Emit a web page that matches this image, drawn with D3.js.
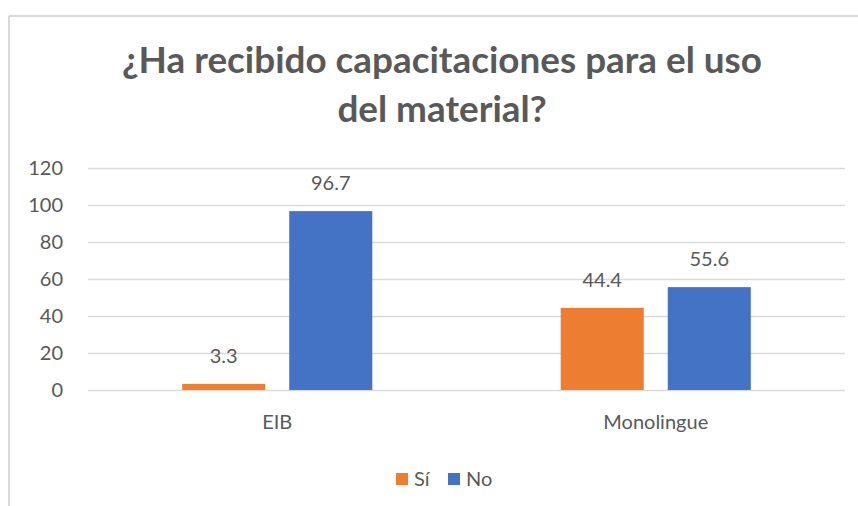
<!DOCTYPE html>
<html>
<head>
<meta charset="utf-8">
<script src="https://cdn.jsdelivr.net/npm/d3@7"></script>
<style>
  body { margin: 0; background: #fff; }
  text { font-family: Lato, "Open Sans", sans-serif; fill: #595959; }
</style>
</head>
<body>
<script>
// datos del grafico
const categories = ['EIB', 'Monolingue'];
const seriesNames = ['Sí', 'No'];
const siValues = [3.3, 44.4];
const noValues = [96.7, 55.6];
const yTicks = [0, 20, 40, 60, 80, 100, 120];
const titleLines = ['¿Ha recibido capacitaciones para el uso', 'del material?'];

const COLORS = {'Sí': '#ED7D31', 'No': '#4472C4'};

const WIDTH = 858;
const HEIGHT = 506;
const MARGIN = {top: 168, bottom: 116, left: 88, right: 13};

const rows = categories.map((c, i) => ({cat: c, 'Sí': siValues[i], 'No': noValues[i]}));

const SVG = d3.select('body')
  .append('svg')
  .attr('width', WIDTH)
  .attr('height', HEIGHT);

// marco del grafico (solo arriba e izquierda visibles)
SVG.append('line')
  .attr('x1', 9).attr('x2', WIDTH).attr('y1', 16).attr('y2', 16)
  .attr('stroke', '#d9d9d9').attr('stroke-width', 2);
SVG.append('line')
  .attr('x1', 9).attr('x2', 9).attr('y1', 16).attr('y2', HEIGHT)
  .attr('stroke', '#d9d9d9').attr('stroke-width', 2);

const xScale = d3.scaleBand()
  .domain(categories)
  .range([MARGIN.left, WIDTH - MARGIN.right]);

const xInner = d3.scaleBand()
  .domain(seriesNames)
  .range([0, xScale.bandwidth()])
  .paddingInner(0.224)
  .paddingOuter(0.88);

const yScale = d3.scaleLinear()
  .domain([0, 120])
  .range([HEIGHT - MARGIN.bottom, MARGIN.top]);

// titulo
const title = SVG.append('text')
  .attr('x', 442)
  .attr('text-anchor', 'middle')
  .style('font-weight', 'bold')
  .style('font-size', '34px');
title.selectAll('tspan')
  .data(titleLines)
  .enter()
  .append('tspan')
  .attr('x', 442)
  .attr('y', (d, i) => 73 + i * 49)
  .text(d => d);
// ajustar tamaño para que la primera linea mida ~640px
let w = title.select('tspan').node().getComputedTextLength();
title.style('font-size', (34 * 640 / w) + 'px');

// eje y con lineas de cuadricula
const yAxis = d3.axisLeft(yScale)
  .tickValues(yTicks)
  .tickSize(-(WIDTH - MARGIN.right - MARGIN.left))
  .tickPadding(25);

const gy = SVG.append('g')
  .attr('transform', 'translate(' + MARGIN.left + ',0)')
  .call(yAxis);
gy.select('.domain').remove();
gy.selectAll('.tick line').attr('stroke', '#d9d9d9').attr('stroke-width', 1.3);
gy.selectAll('.tick text')
  .style('font-size', '20px')
  .attr('fill', '#595959');

// barras
const groups = SVG.selectAll('.grupo')
  .data(rows)
  .enter()
  .append('g')
  .attr('class', 'grupo')
  .attr('transform', d => 'translate(' + xScale(d.cat) + ',0)');

groups.selectAll('rect')
  .data(d => seriesNames.map(s => ({serie: s, value: d[s]})))
  .enter()
  .append('rect')
  .attr('x', d => xInner(d.serie))
  .attr('y', d => yScale(d.value))
  .attr('width', xInner.bandwidth())
  .attr('height', d => yScale(0) - yScale(d.value))
  .attr('fill', d => COLORS[d.serie]);

groups.selectAll('.etiqueta')
  .data(d => seriesNames.map(s => ({serie: s, value: d[s]})))
  .enter()
  .append('text')
  .attr('class', 'etiqueta')
  .attr('x', d => xInner(d.serie) + xInner.bandwidth() / 2)
  .attr('y', d => yScale(d.value) - 21)
  .attr('text-anchor', 'middle')
  .style('font-size', '20px')
  .text(d => d.value);

// etiquetas de categoria
SVG.selectAll('.cat')
  .data(categories)
  .enter()
  .append('text')
  .attr('class', 'cat')
  .attr('x', d => xScale(d) + xScale.bandwidth() / 2)
  .attr('y', 429)
  .attr('text-anchor', 'middle')
  .style('font-size', '20px')
  .text(d => d);

// leyenda
const legendX = [396, 448];
const legend = SVG.selectAll('.leyenda')
  .data(seriesNames)
  .enter()
  .append('g')
  .attr('class', 'leyenda')
  .attr('transform', (d, i) => 'translate(' + legendX[i] + ',473)');

legend.append('rect')
  .attr('width', 12)
  .attr('height', 12)
  .attr('fill', d => COLORS[d]);

legend.append('text')
  .attr('x', 18)
  .attr('y', 13)
  .style('font-size', '20px')
  .text(d => d);
</script>
</body>
</html>
